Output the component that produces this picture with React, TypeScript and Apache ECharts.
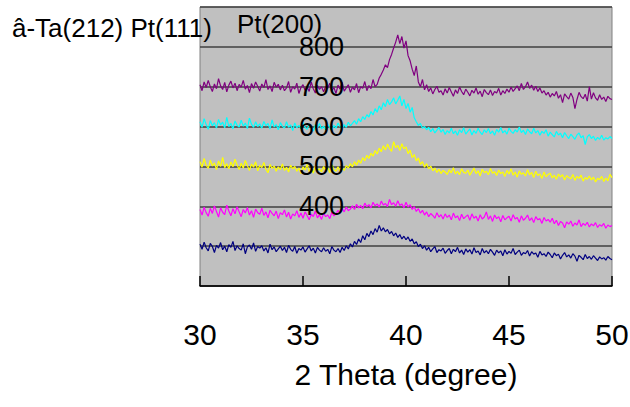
import React, { useEffect, useRef } from "react";
import * as echarts from "echarts";

// 2θ scan: 30°–50°, one reading every 0.1°
const THETA_START = 30;
const THETA_STEP = 0.1;

const xTicks = [30, 35, 40, 45, 50];
const yTickLabels = [400, 500, 600, 700, 800];

const purple = [
  705, 690, 712, 698, 716, 700, 688, 707, 695, 720,
  702, 693, 711, 687, 704, 714, 697, 709, 690, 706,
  699, 716, 694, 703, 685, 708, 696, 712, 701, 689,
  707, 698, 718, 693, 702, 688, 711, 699, 706, 692,
  704, 690, 697, 713, 686, 700, 694, 709, 683, 698,
  705, 691, 699, 688, 712, 695, 684, 703, 693, 700,
  687, 701, 696, 709, 690, 698, 683, 704, 694, 711,
  689, 697, 705, 686, 699, 692, 708, 685, 700, 696,
  713, 690, 703, 695, 718, 700, 706, 722, 731, 742,
  755, 748, 768, 781, 797, 812, 830, 808, 826, 797,
  815, 778, 765, 744, 728, 752, 712, 700, 718, 692,
  705, 688, 697, 682, 693, 701, 686, 690, 679, 695,
  684, 698, 687, 676, 692, 683, 699, 688, 680, 694,
  686, 677, 691, 684, 697, 681, 689, 675, 693, 685,
  680, 692, 678, 688, 684, 696, 679, 690, 683, 694,
  686, 699, 688, 695, 702, 690, 708, 693, 700, 712,
  696, 704, 691, 701, 688, 697, 684, 690, 679, 686,
  674, 683, 677, 688, 671, 680, 660, 682, 675, 669,
  684, 673, 645, 668, 686, 675, 670, 681, 664, 700,
  669, 685, 672, 666, 680, 668, 674, 663, 676, 670,
  668,
];

const cyan = [
  612, 598, 620, 605, 593, 615, 602, 610, 596, 618,
  604, 611, 597, 623, 600, 608, 594, 614, 603, 599,
  616, 601, 609, 595, 621, 606, 598, 612, 600, 607,
  596, 613, 602, 608, 594, 617, 599, 605, 592, 610,
  601, 596, 612, 598, 604, 590, 609, 597, 603, 595,
  611, 598, 593, 606, 600, 589, 604, 597, 608, 594,
  601, 592, 606, 598, 590, 603, 596, 609, 600, 594,
  605, 598, 611, 602, 608, 615, 606, 620, 612, 625,
  618, 630, 624, 638, 629, 645, 636, 652, 642, 660,
  650, 668, 655, 662, 672, 657, 666, 677, 652, 668,
  645, 658, 636, 648, 622, 612, 603, 608, 596, 600,
  592, 598, 587, 595, 584, 591, 598, 586, 593, 580,
  590, 584, 596, 582, 589, 578, 592, 585, 597, 581,
  588, 594, 579, 590, 583, 596, 586, 580, 592, 585,
  595, 582, 589, 578, 593, 586, 598, 584, 590, 581,
  596, 588, 583, 592, 586, 599, 585, 591, 580, 594,
  587, 582, 596, 584, 590, 578, 588, 583, 592, 576,
  586, 580, 574, 588, 579, 583, 572, 585, 577, 570,
  581, 575, 568, 579, 584, 572, 577, 555, 574, 580,
  570, 576, 565, 573, 568, 578, 566, 572, 569, 575,
  570,
];

const yellow = [
  512, 498, 520, 503, 495, 516, 501, 509, 492, 514,
  500, 523, 497, 507, 494, 511, 499, 518, 504, 492,
  508, 496, 515, 502, 490, 506, 498, 512, 489, 503,
  497, 510, 493, 484, 505, 495, 501, 488, 499, 492,
  506, 490, 498, 486, 503, 494, 500, 488, 496, 482,
  499, 491, 505, 487, 496, 483, 502, 490, 494, 486,
  500, 489, 497, 484, 504, 492, 488, 499, 485, 495,
  490, 502, 496, 507, 499, 512, 503, 516, 508, 522,
  514, 528, 520, 533, 526, 540, 531, 546, 537, 552,
  541, 556, 545, 538, 562, 547, 553, 540, 557, 544,
  549, 532, 541, 522, 530, 514, 521, 505, 512, 498,
  507, 494, 501, 489, 496, 485, 493, 482, 490, 486,
  480, 492, 484, 497, 481, 488, 479, 494, 485, 483,
  491, 478, 487, 496, 482, 489, 476, 493, 484, 488,
  479, 495, 483, 487, 477, 491, 482, 486, 475, 490,
  481, 494, 478, 486, 473, 489, 480, 484, 476, 492,
  479, 485, 472, 488, 477, 481, 470, 486, 474, 480,
  483, 471, 478, 468, 481, 474, 479, 466, 477, 472,
  469, 480, 465, 475, 470, 478, 463, 472, 468, 476,
  466, 473, 461, 470, 467, 475, 462, 471, 464, 480,
  472,
];

const magenta = [
  392, 378, 398, 384, 375, 395, 382, 401, 387, 373,
  396, 385, 379, 403, 388, 376, 394, 381, 399, 386,
  374, 392, 383, 397, 378, 389, 372, 393, 384, 380,
  395, 377, 386, 371, 390, 382, 376, 388, 369, 384,
  379, 391, 373, 385, 368, 381, 376, 389, 372, 383,
  370, 386, 377, 366, 380, 374, 388, 371, 379, 367,
  383, 374, 378, 369, 385, 376, 381, 390, 383, 394,
  386, 398, 389, 393, 401, 392, 405, 396, 402, 394,
  408, 399, 404, 396, 410, 401, 406, 398, 413, 403,
  407, 399, 417, 404, 409, 400, 414, 402, 406, 396,
  410, 398, 404, 392, 399, 387, 394, 383, 390, 378,
  386, 374, 382, 377, 370, 384, 373, 379, 368, 381,
  372, 378, 366, 383, 371, 376, 364, 380, 369, 374,
  378, 365, 381, 370, 375, 363, 379, 368, 373, 386,
  367, 376, 362, 378, 369, 374, 361, 377, 366, 371,
  375, 363, 379, 368, 372, 360, 376, 365, 370, 378,
  364, 371, 359, 374, 366, 369, 357, 372, 363, 367,
  360, 370, 356, 365, 352, 362, 358, 346, 361, 355,
  363, 350, 358, 353, 366, 349, 357, 352, 360, 348,
  356, 351, 359, 347, 354, 350, 357, 345, 353, 349,
  352,
];

const navy = [
  305, 292, 310, 296, 288, 307, 299, 284, 302, 295,
  309, 291, 300, 286, 304, 297, 312, 289, 301, 294,
  290, 306, 281, 298, 303, 292, 308, 287, 299, 295,
  301, 288, 296, 283, 305, 291, 298, 286, 293, 300,
  289, 297, 284, 302, 292, 287, 299, 282, 294, 290,
  298, 285, 293, 301, 288, 295, 283, 297, 290, 286,
  296, 287, 292, 281, 299, 290, 286, 294, 284, 297,
  289, 301, 293, 306, 298, 312, 304, 318, 309, 326,
  316, 332, 324, 338, 329, 344, 335, 352, 338, 346,
  336, 342, 331, 337, 326, 333, 322, 329, 318, 325,
  316, 323, 312, 318, 306, 311, 299, 305, 294, 301,
  290, 297, 286, 293, 299, 284, 291, 288, 295, 282,
  289, 294, 281, 292, 286, 297, 283, 290, 279, 293,
  285, 291, 280, 296, 284, 288, 278, 294, 283, 289,
  281, 292, 285, 277, 290, 283, 288, 276, 291, 280,
  287, 282, 294, 279, 285, 290, 277, 284, 281, 289,
  275, 286, 280, 283, 272, 287, 278, 281, 274, 285,
  279, 271, 283, 276, 280, 268, 277, 284, 273, 278,
  270, 281, 275, 262, 277, 272, 266, 279, 269, 274,
  267, 276, 270, 264, 273, 268, 271, 265, 274, 269,
  266,
];

const seriesDefs = [
  { name: "s1", values: navy, color: "#000080" },
  { name: "s2", values: magenta, color: "#FF00FF" },
  { name: "s3", values: yellow, color: "#FFFF00" },
  { name: "s4", values: cyan, color: "#00FFFF" },
  { name: "s5", values: purple, color: "#800080" },
];

const FONT = '"Liberation Sans", Arial, sans-serif';

export default function App() {
  const ref = useRef<HTMLDivElement>(null);

  useEffect(() => {
    if (!ref.current) return;
    const chart = echarts.init(ref.current, null, { renderer: "svg" });
    const toPairs = (vals: number[]) =>
      vals.map((v, i) => [+(THETA_START + i * THETA_STEP).toFixed(1), v]);

    chart.setOption({
      animation: false,
      backgroundColor: "#ffffff",
      grid: {
        left: 200,
        right: 18,
        top: 7,
        bottom: 121,
        show: true,
        backgroundColor: "#C0C0C0",
        borderColor: "#808080",
        borderWidth: 1,
        outerBoundsMode: "none",
      },
      xAxis: {
        type: "value",
        min: xTicks[0],
        max: xTicks[xTicks.length - 1],
        interval: 5,
        name: "2 Theta (degree)",
        nameLocation: "middle",
        nameGap: 73,
        nameTextStyle: { fontFamily: FONT, fontSize: 30, color: "#000" },
        axisLine: { show: true, lineStyle: { color: "#000", width: 1.5 } },
        axisTick: { show: true, inside: true, length: 10, lineStyle: { color: "#000", width: 1.5 } },
        axisLabel: { fontFamily: FONT, fontSize: 30, color: "#000", margin: 33 },
        splitLine: { show: false },
      },
      yAxis: [
        {
          type: "value",
          min: 200,
          max: 900,
          interval: 100,
          position: "left",
          axisLine: { show: false },
          axisTick: { show: false },
          axisLabel: { show: false },
          splitLine: { show: true, lineStyle: { color: "#404040", width: 1.5 } },
        },
        {
          type: "value",
          min: 200,
          max: 900,
          interval: 100,
          position: "left",
          z: 10,
          axisLine: { show: false },
          axisTick: { show: false },
          splitLine: { show: false },
          axisLabel: {
            inside: true,
            margin: 99,
            fontFamily: FONT,
            fontSize: 27,
            color: "#000",
            formatter: (v: number) => (yTickLabels.includes(v) ? String(v) : ""),
          },
        },
      ],
      series: seriesDefs.map((s) => ({
        name: s.name,
        type: "line",
        yAxisIndex: 0,
        data: toPairs(s.values),
        showSymbol: false,
        symbol: "none",
        lineStyle: { color: s.color, width: 1.2 },
        itemStyle: { color: s.color },
      })),
      graphic: [
        {
          type: "text",
          x: 12,
          y: 28,
          z: 20,
          style: {
            text: "â-Ta(212) Pt(111)",
            font: `26px ${FONT}`,
            fill: "#000",
            verticalAlign: "middle",
            align: "left",
          },
        },
        {
          type: "text",
          x: 237,
          y: 24,
          z: 20,
          style: {
            text: "Pt(200)",
            font: `26px ${FONT}`,
            fill: "#000",
            verticalAlign: "middle",
            align: "left",
          },
        },
      ],
    });

    return () => chart.dispose();
  }, []);

  return (
    <div
      ref={ref}
      style={{ position: "fixed", left: 0, top: 0, width: 630, height: 407 }}
    />
  );
}
